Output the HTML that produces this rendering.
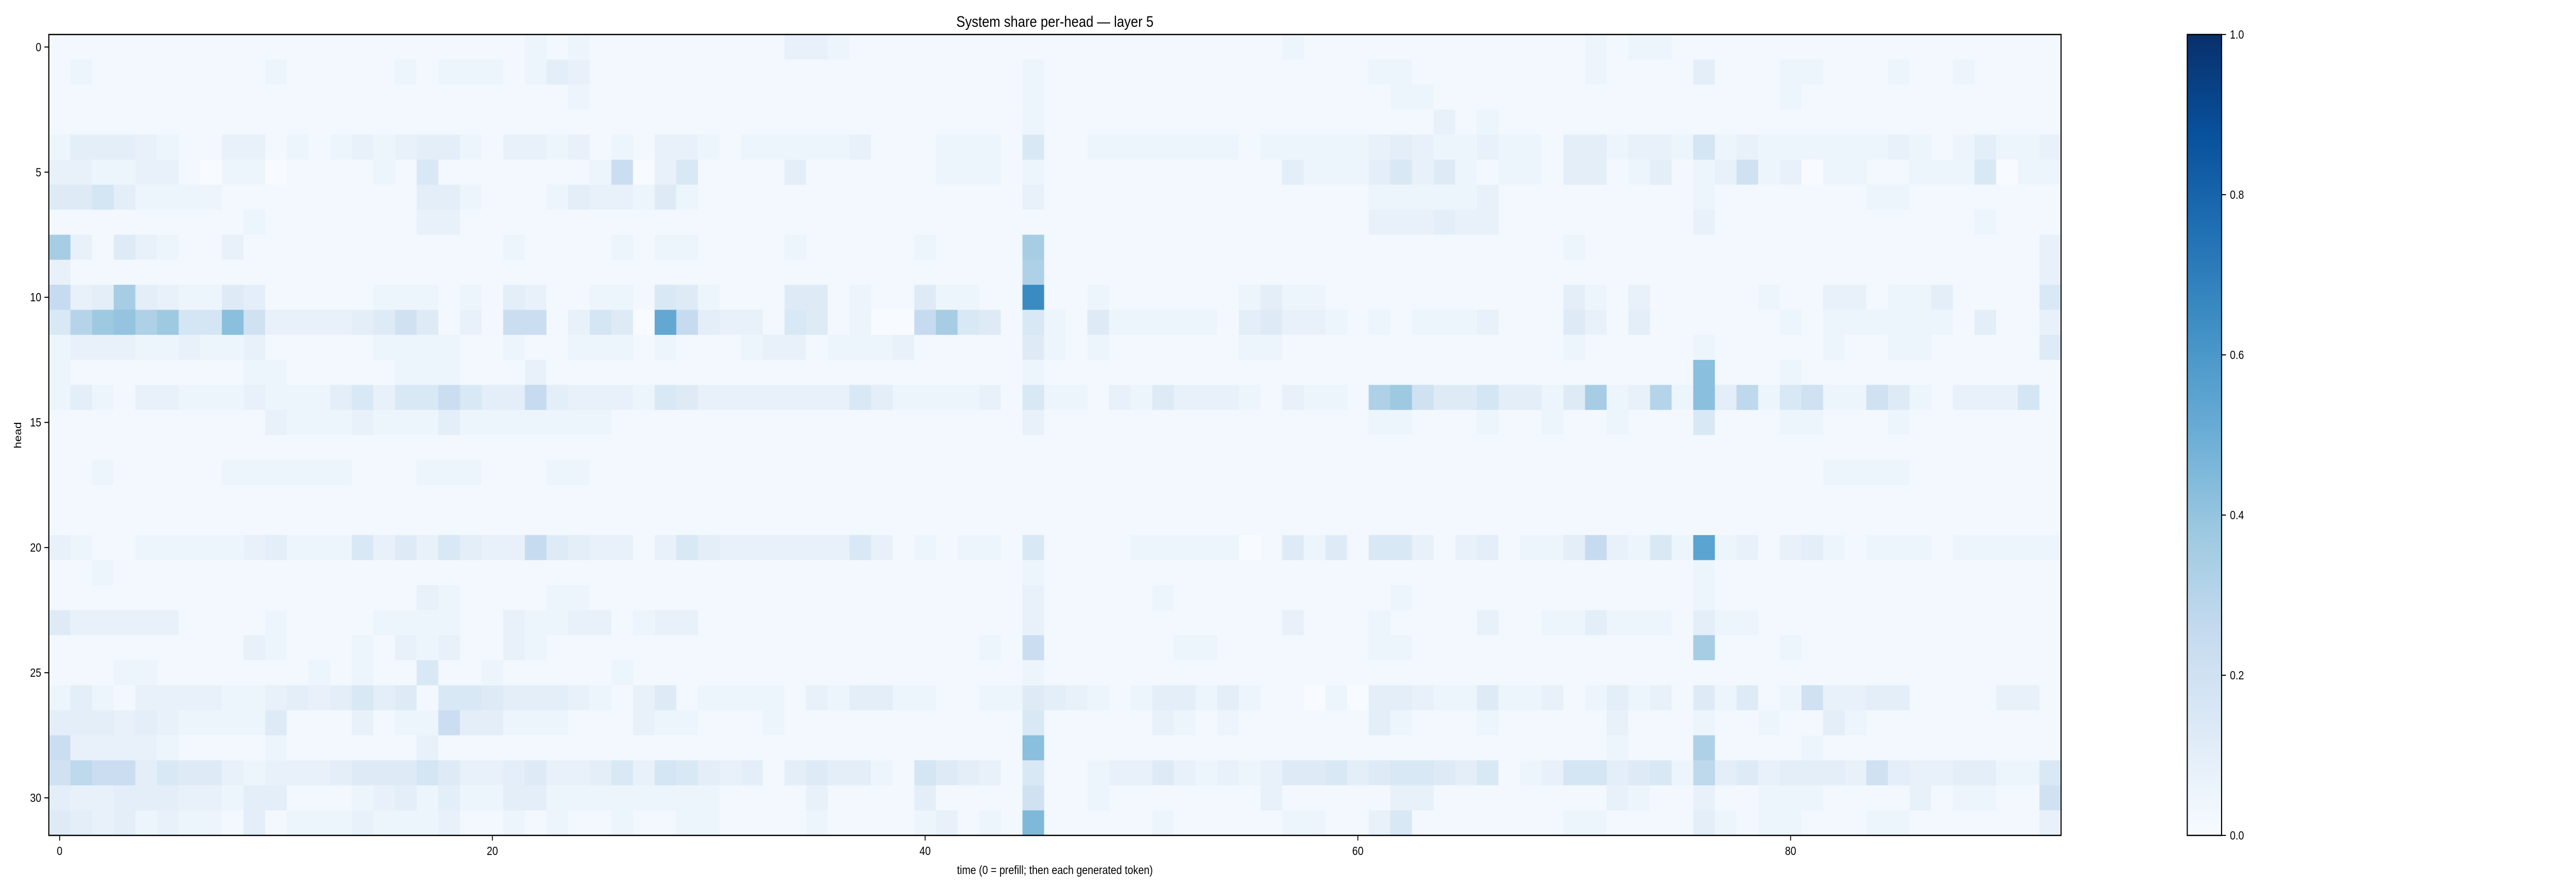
<!DOCTYPE html>
<html><head><meta charset="utf-8"><title>System share per-head — layer 5</title>
<style>html,body{margin:0;padding:0;background:#fff;width:100%;height:100%;overflow:hidden;}svg{display:block;width:100vw;height:100vh;font-family:"Liberation Sans","DejaVu Sans",sans-serif;}</style>
</head><body>
<svg id="chart" xmlns="http://www.w3.org/2000/svg" viewBox="0 0 5858 1728" preserveAspectRatio="none">
<rect width="5858" height="1728" fill="#ffffff"/>
<text x="2399" y="52" font-size="30" text-anchor="middle" fill="#000">System share per-head — layer 5</text>
<g id="cells"></g>
<rect x="111" y="67" width="4576" height="1555" fill="none" stroke="#000" stroke-width="2.5"/>
<g id="yticks"></g>
<g id="xticks"></g>
<text x="2399" y="1697" font-size="23" text-anchor="middle" fill="#000">time (0 = prefill; then each generated token)</text>
<text x="0" y="0" font-size="23" text-anchor="middle" fill="#000" transform="translate(48,845) rotate(-90)">head</text>
<defs><linearGradient id="cbgrad" x1="0" y1="1" x2="0" y2="0">
<stop offset="0" stop-color="#f7fbff"/><stop offset="0.125" stop-color="#deebf7"/><stop offset="0.25" stop-color="#c6dbef"/><stop offset="0.375" stop-color="#9ecae1"/><stop offset="0.5" stop-color="#6baed6"/><stop offset="0.625" stop-color="#4292c6"/><stop offset="0.75" stop-color="#2171b5"/><stop offset="0.875" stop-color="#08519c"/><stop offset="1" stop-color="#08306b"/>
</linearGradient></defs>
<rect x="4974" y="67" width="78" height="1555" fill="url(#cbgrad)" stroke="#000" stroke-width="2.5"/>
<g id="cbticks"></g>
</svg>
<script>
const heads = Array.from({length: 32}, (_, i) => i);
const times = Array.from({length: 93}, (_, i) => i);
const yTickLabels = [0, 5, 10, 15, 20, 25, 30];
const xTickLabels = [0, 20, 40, 60, 80];
const cbTickLabels = [0.0, 0.2, 0.4, 0.6, 0.8, 1.0];
const levelChars = "0123456789abcdefghijklmnopqrstuvwxyz";
const levelStep = 0.025;
const rowCodes = [
"111111111111111111111121"+"211111111133211111111111"+"111111111211111111111112"+"122111111111111111111",
"121111111121111121222124"+"311111111111111111111211"+"111111111111122111111112"+"111141112211121121111",
"111111111111111111111111"+"211111111111111111111211"+"111111111111112211111111"+"111111112111111111111",
"111111111111111111111111"+"111111111111111111111211"+"111111111111111131211111"+"111111111111111111111",
"244432113312123234421332"+"312133212222231112221611"+"222222212222234322322144"+"233272322222232124223",
"332233102201111216111111"+"129036111141111112221211"+"111111111422246352122144"+"124123823022112226022",
"557422221111111114421112"+"433252111111111111111311"+"111111111111122222311111"+"111121111111221111111",
"111111111211111113311111"+"111111111111111111111111"+"111111111111133343311111"+"111131111111111112111",
"e31532113111111111111211"+"112122111121111121111e11"+"111111111111111111111121"+"111111111111111111113",
"311111111111111111111111"+"111111111111111111111d11"+"111111111111111111111111"+"111111111111111111113",
"a34e43225411111222121431"+"122165211155121152211q11"+"211111124221111111111142"+"131111121133122411116",
"6cfgdf77h833334585131991"+"3750la4331651200ae651621"+"522222145332121222311153"+"141111112122222214113",
"233322322311111222211211"+"222121112331222311111521"+"211111122111111111111121"+"111121111121122111115",
"211111111221111122211131"+"111111111111111111111211"+"111111111111111111111111"+"1111h111211111111111",
"2421332223"+"2224636696"+"44a4"+"3332653333"+"3336422223"+"1622"+"1325333213"+"221df85574"+"425e"+"23c2h4b268"+"2285213337"+"1",
"1111111111"+"3222322242"+"2222"+"221111111111111111111311"+"111111111111122111211211"+"211161112211121111111",
"111111111111111111111111"+"111111111111111111111111"+"111111111111111111111111"+"111111111111111111111",
"112111112222221112221112"+"211111111111111111111111"+"111111111111111111111111"+"111111111122221111111",
"111111111111111111111111"+"111111111111111111111111"+"111111111111111111111111"+"111111111111111111111",
"111111111111111111111111"+"111111111111111111111111"+"111111111111111111111111"+"111111111111111111111",
"3211222223"+"4222635364"+"33a5"+"4331364333"+"3336312122"+"1611"+"1122222015"+"2516631341"+"224a"+"3262m23134"+"2122212222"+"2",
"112111111111111111111111"+"111111111111111111111211"+"111111111111111111111111"+"111121111111111111111",
"111111111111111113211112"+"211111111111111111111311"+"111211111111112111111111"+"111121111111111111111",
"5333331111"+"2111122221"+"1322"+"331233111111111111111311"+"111111111311121111311224"+"222142211111111111111",
"111111111321112132311321"+"111111111111111111121911"+"111122111111122111111111"+"1111e1112111111111111",
"111221111111212116112111"+"112111111111111111111211"+"111111111111111111111111"+"111111111111111111111",
"2421333322"+"3434645166"+"5444"+"3213512222"+"1324422112"+"2543"+"2124424211"+"0204432252"+"2312"+"4231525128"+"3344111133"+"1",
"4443432222"+"5111312294"+"4222"+"111322111211111111111611"+"111321211111142111211111"+"311121121142111111111",
"9333321111"+"2111111311"+"1111"+"111111111111111111111h11"+"111111111111111111111111"+"2111d1111211111111111",
"8b99465532"+"3334555753"+"3453"+"3463764341"+"4544217543"+"1611"+"2335323235"+"5645665461"+"2377"+"4562b45344"+"4384334422"+"6",
"4334443324"+"4111234242"+"2442"+"2222222111"+"1311114111"+"1811"+"211111113111113311111111"+"3211311222"+"1111312211"+"8",
"5434232214"+"1222322231"+"1212"+"112112211112111123121i11"+"111211111221136111111122"+"111142122111221111113"
];

const X0 = 111, X1 = 4687, Y0 = 67, Y1 = 1622;
const cellW = (X1 - X0) / times.length;
const cellH = (Y1 - Y0) / heads.length;
function xScale(t) { return X0 + (t + 0.5) * cellW; }
function yScale(h) { return Y0 + (h + 0.5) * cellH; }
const blues = [[247,251,255],[222,235,247],[198,219,239],[158,202,225],[107,174,214],[66,146,198],[33,113,181],[8,81,156],[8,48,107]];
function colorFor(v) {
  v = Math.max(0, Math.min(1, v));
  const p = v * 8, i = Math.min(7, Math.floor(p)), f = p - i;
  const a = blues[i], b = blues[i + 1];
  const c = a.map((x, k) => Math.round(x + (b[k] - x) * f));
  return "rgb(" + c.join(",") + ")";
}
function decodeRow(code) {
  const out = [];
  for (let i = 0; i < times.length; i++) {
    const ch = code.charAt(i) || "1";
    const idx = levelChars.indexOf(ch);
    out.push((idx < 0 ? 1 : idx) * levelStep);
  }
  return out;
}
const values = rowCodes.map(decodeRow);
const NS = "http://www.w3.org/2000/svg";
const cellsG = document.getElementById("cells");
heads.forEach((h, r) => {
  times.forEach((t, c) => {
    const rect = document.createElementNS(NS, "rect");
    
    
    rect.setAttribute("x", (xScale(t) - cellW / 2).toFixed(2));
    rect.setAttribute("y", (yScale(h) - cellH / 2).toFixed(2));
    rect.setAttribute("width", (cellW + 0.6).toFixed(2));
    rect.setAttribute("height", (cellH + 0.6).toFixed(2));
    rect.setAttribute("fill", colorFor(values[r][c]));
    cellsG.appendChild(rect);
  });
});
const yG = document.getElementById("yticks");
yTickLabels.forEach(v => {
  const y = yScale(v);
  const ln = document.createElementNS(NS, "line");
  
  
  ln.setAttribute("x1", X0 - 10); ln.setAttribute("x2", X0);
  ln.setAttribute("y1", y); ln.setAttribute("y2", y);
  ln.setAttribute("stroke", "#000"); ln.setAttribute("stroke-width", "2");
  yG.appendChild(ln);
  const tx = document.createElementNS(NS, "text");
  
  
  tx.setAttribute("x", X0 - 17); tx.setAttribute("y", y + 8);
  tx.setAttribute("font-size", "23"); tx.setAttribute("text-anchor", "end");
  tx.textContent = v;
  yG.appendChild(tx);
});
const xG = document.getElementById("xticks");
xTickLabels.forEach(v => {
  const x = xScale(v);
  const ln = document.createElementNS(NS, "line");
  
  
  ln.setAttribute("x1", x); ln.setAttribute("x2", x);
  ln.setAttribute("y1", Y1); ln.setAttribute("y2", Y1 + 10);
  ln.setAttribute("stroke", "#000"); ln.setAttribute("stroke-width", "2");
  xG.appendChild(ln);
  const tx = document.createElementNS(NS, "text");
  
  
  tx.setAttribute("x", x); tx.setAttribute("y", 1660);
  tx.setAttribute("font-size", "23"); tx.setAttribute("text-anchor", "middle");
  tx.textContent = v;
  xG.appendChild(tx);
});
const cbG = document.getElementById("cbticks");
cbTickLabels.forEach(v => {
  const y = Y1 - v * (Y1 - Y0);
  const ln = document.createElementNS(NS, "line");
  
  
  ln.setAttribute("x1", 5052); ln.setAttribute("x2", 5062);
  ln.setAttribute("y1", y); ln.setAttribute("y2", y);
  ln.setAttribute("stroke", "#000"); ln.setAttribute("stroke-width", "2");
  cbG.appendChild(ln);
  const tx = document.createElementNS(NS, "text");
  
  
  tx.setAttribute("x", 5071); tx.setAttribute("y", y + 8);
  tx.setAttribute("font-size", "23");
  tx.textContent = v.toFixed(1);
  cbG.appendChild(tx);
});
</script>
</body></html>
